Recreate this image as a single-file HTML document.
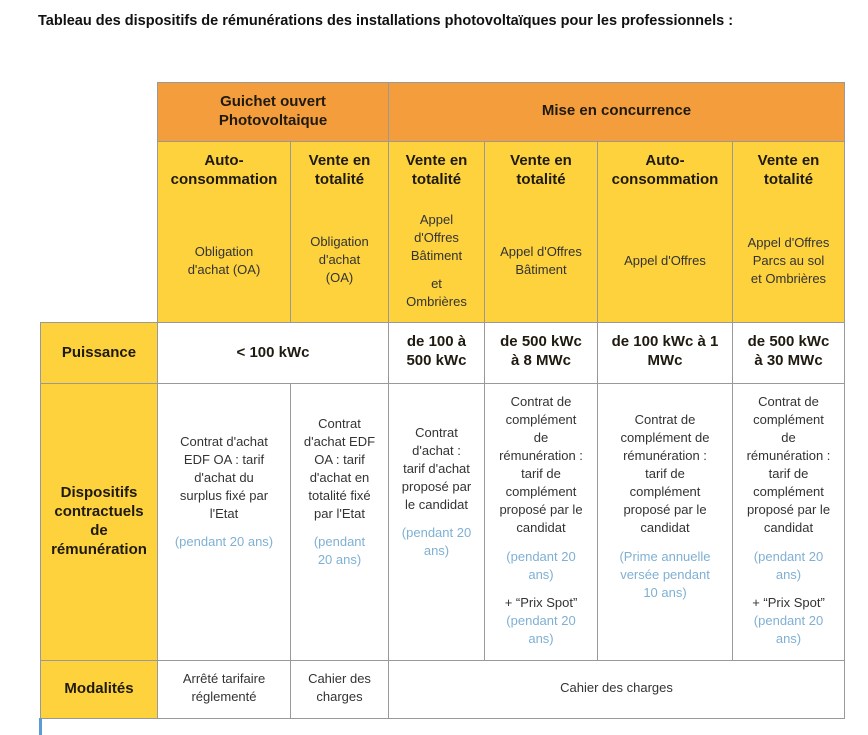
<!DOCTYPE html>
<html><head><meta charset="utf-8"><style>
body{margin:0;width:868px;height:735px;background:#fff;position:relative;overflow:hidden;font-family:"Liberation Sans",Arial,sans-serif;}
.c{position:absolute;box-sizing:border-box;border:1px solid #999;}
.o{background:#F49D3C;}
.y{background:#FDD23C;}
.t{position:absolute;left:0;right:0;text-align:center;}
.b{font-weight:bold;font-size:15px;line-height:19px;color:#1f1a10;}
.s{font-size:13px;line-height:18px;color:#333;}
.bl{color:#7fb0d4;}
</style></head><body>
<div style="position:absolute;left:38px;top:13px;font-size:14.5px;font-weight:bold;color:#111;">Tableau des dispositifs de rémunérations des installations photovoltaïques pour les professionnels :</div>

<!-- header row 1 -->
<div class="c o" style="left:157px;top:82px;width:232px;height:60px"><div class="t b" style="top:9px">Guichet ouvert<br>Photovoltaique</div></div>
<div class="c o" style="left:388px;top:82px;width:457px;height:60px"><div class="t b" style="top:18px">Mise en concurrence</div></div>

<!-- header row 2 -->
<div class="c y" style="left:157px;top:141px;width:134px;height:182px"><div class="t b" style="top:9px">Auto-<br>consommation</div><div class="t s" style="top:101px">Obligation<br>d'achat (OA)</div></div>
<div class="c y" style="left:290px;top:141px;width:99px;height:182px"><div class="t b" style="top:9px">Vente en<br>totalité</div><div class="t s" style="top:91px">Obligation<br>d'achat<br>(OA)</div></div>
<div class="c y" style="left:388px;top:141px;width:97px;height:182px"><div class="t b" style="top:9px">Vente en<br>totalité</div><div class="t s" style="top:69px">Appel<br>d'Offres<br>Bâtiment</div><div class="t s" style="top:133px">et<br>Ombrières</div></div>
<div class="c y" style="left:484px;top:141px;width:114px;height:182px"><div class="t b" style="top:9px">Vente en<br>totalité</div><div class="t s" style="top:101px">Appel d'Offres<br>Bâtiment</div></div>
<div class="c y" style="left:597px;top:141px;width:136px;height:182px"><div class="t b" style="top:9px">Auto-<br>consommation</div><div class="t s" style="top:110px">Appel d'Offres</div></div>
<div class="c y" style="left:732px;top:141px;width:113px;height:182px"><div class="t b" style="top:9px">Vente en<br>totalité</div><div class="t s" style="top:92px">Appel d'Offres<br>Parcs au sol<br>et Ombrières</div></div>

<!-- row labels -->
<div class="c y" style="left:40px;top:322px;width:118px;height:62px"><div class="t b" style="top:20px">Puissance</div></div>
<div class="c y" style="left:40px;top:383px;width:118px;height:278px"><div class="t b" style="top:99px">Dispositifs<br>contractuels<br>de<br>rémunération</div></div>
<div class="c y" style="left:40px;top:660px;width:118px;height:59px"><div class="t b" style="top:18px">Modalités</div></div>

<!-- puissance -->
<div class="c" style="left:157px;top:322px;width:232px;height:62px"><div class="t b" style="top:20px">&lt; 100 kWc</div></div>
<div class="c" style="left:388px;top:322px;width:97px;height:62px"><div class="t b" style="top:9px">de 100 à<br>500 kWc</div></div>
<div class="c" style="left:484px;top:322px;width:114px;height:62px"><div class="t b" style="top:9px">de 500 kWc<br>à 8 MWc</div></div>
<div class="c" style="left:597px;top:322px;width:136px;height:62px"><div class="t b" style="top:9px">de 100 kWc à 1<br>MWc</div></div>
<div class="c" style="left:732px;top:322px;width:113px;height:62px"><div class="t b" style="top:9px">de 500 kWc<br>à 30 MWc</div></div>

<!-- dispositifs -->
<div class="c" style="left:157px;top:383px;width:134px;height:278px"><div class="t s" style="top:49px">Contrat d'achat<br>EDF OA : tarif<br>d'achat du<br>surplus fixé par<br>l'Etat</div><div class="t s bl" style="top:149px">(pendant 20 ans)</div></div>
<div class="c" style="left:290px;top:383px;width:99px;height:278px"><div class="t s" style="top:31px">Contrat<br>d'achat EDF<br>OA : tarif<br>d'achat en<br>totalité fixé<br>par l'Etat</div><div class="t s bl" style="top:149px">(pendant<br>20 ans)</div></div>
<div class="c" style="left:388px;top:383px;width:97px;height:278px"><div class="t s" style="top:40px">Contrat<br>d'achat :<br>tarif d'achat<br>proposé par<br>le candidat</div><div class="t s bl" style="top:140px">(pendant 20<br>ans)</div></div>
<div class="c" style="left:484px;top:383px;width:114px;height:278px"><div class="t s" style="top:9px">Contrat de<br>complément<br>de<br>rémunération :<br>tarif de<br>complément<br>proposé par le<br>candidat</div><div class="t s bl" style="top:164px">(pendant 20<br>ans)</div><div class="t s" style="top:210px">+ “Prix Spot”</div><div class="t s bl" style="top:228px">(pendant 20<br>ans)</div></div>
<div class="c" style="left:597px;top:383px;width:136px;height:278px"><div class="t s" style="top:27px">Contrat de<br>complément de<br>rémunération :<br>tarif de<br>complément<br>proposé par le<br>candidat</div><div class="t s bl" style="top:164px">(Prime annuelle<br>versée pendant<br>10 ans)</div></div>
<div class="c" style="left:732px;top:383px;width:113px;height:278px"><div class="t s" style="top:9px">Contrat de<br>complément<br>de<br>rémunération :<br>tarif de<br>complément<br>proposé par le<br>candidat</div><div class="t s bl" style="top:164px">(pendant 20<br>ans)</div><div class="t s" style="top:210px">+ “Prix Spot”</div><div class="t s bl" style="top:228px">(pendant 20<br>ans)</div></div>

<!-- modalites -->
<div class="c" style="left:157px;top:660px;width:134px;height:59px"><div class="t s" style="top:9px">Arrêté tarifaire<br>réglementé</div></div>
<div class="c" style="left:290px;top:660px;width:99px;height:59px"><div class="t s" style="top:9px">Cahier des<br>charges</div></div>
<div class="c" style="left:388px;top:660px;width:457px;height:59px"><div class="t s" style="top:18px">Cahier des charges</div></div>

<div style="position:absolute;left:39px;top:718px;width:3px;height:17px;background:#5b9bd5"></div>
</body></html>
